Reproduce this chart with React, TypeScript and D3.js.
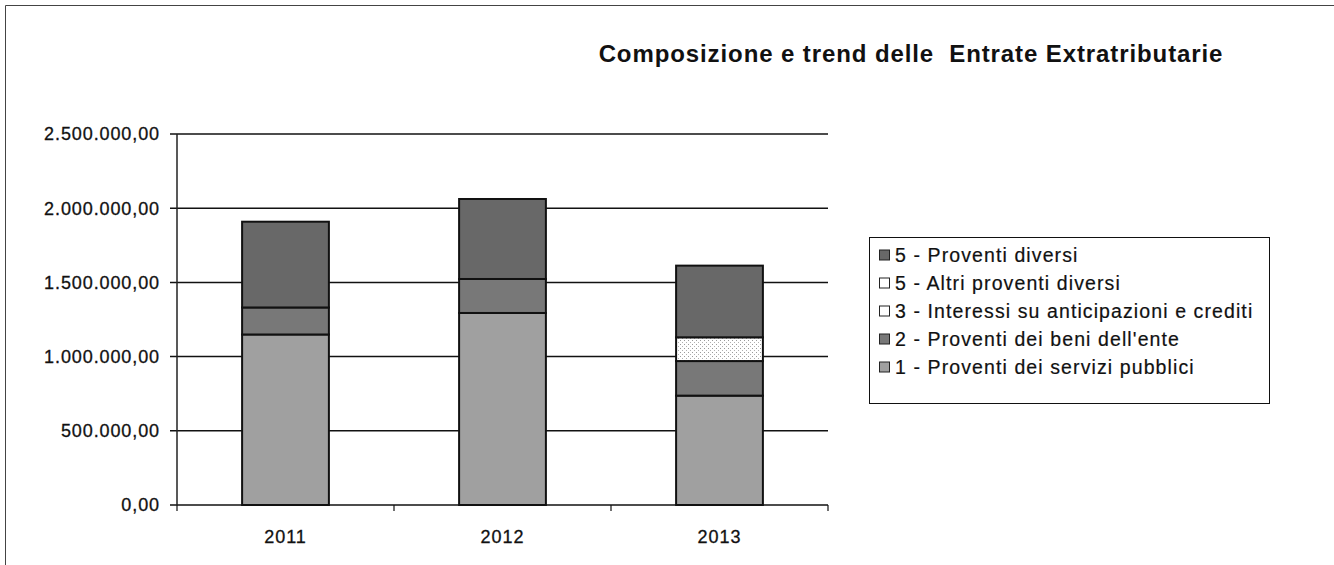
import React from 'react';
import * as d3 from 'd3';

const years = ['2011', '2012', '2013'];
const seriesNames = [
  '1 - Proventi dei servizi pubblici',
  "2 - Proventi dei beni dell'ente",
  '3 - Interessi su anticipazioni e crediti',
  '5 - Altri proventi diversi',
  '5 - Proventi diversi',
];
const serviziPubblici = [1149000, 1294000, 737000];
const beniEnte = [182000, 229000, 233000];
const interessi = [0, 0, 0];
const altriProventi = [0, 0, 160000];
const proventiDiversi = [578000, 539000, 483000];
const yTicks = [0, 500000, 1000000, 1500000, 2000000, 2500000];
const title = 'Composizione e trend delle\u00a0\u00a0Entrate Extratributarie';

const seriesValues = [serviziPubblici, beniEnte, interessi, altriProventi, proventiDiversi];
const fills = ['#a0a0a0', '#787878', '#ffffff', 'url(#dots)', '#686868'];
const legendFills = ['#a0a0a0', '#787878', '#ffffff', '#ffffff', '#686868'];

const it = d3.formatLocale({ decimal: ',', thousands: '.', grouping: [3], currency: ['€', ''] });
const fmt = it.format(',.2f');

export default function App() {
  const W = 1334, H = 565;
  const left = 177, right = 828, top = 134, bottom = 505;
  const x = d3.scaleBand<string>().domain(years).range([left, right]).padding(0);
  const y = d3.scaleLinear().domain([0, 2500000]).range([bottom, top]);
  const barW = x.bandwidth() * 0.4;

  const table = years.map((yr, i) => {
    const row: any = { year: yr };
    seriesNames.forEach((n, k) => (row[n] = seriesValues[k][i]));
    return row;
  });
  const stacked = d3.stack<any>().keys(seriesNames)(table);

  const legendItems = seriesNames.map((n, k) => ({ n, k })).reverse();
  const font = 'Arial, "Liberation Sans", sans-serif';

  return (
    <svg width={W} height={H} style={{ position: 'absolute', left: 0, top: 0, background: '#fff' }} fontFamily={font}>
      <defs>
        <pattern id="dots" width="4" height="4" patternUnits="userSpaceOnUse">
          <rect width="4" height="4" fill="#ffffff" />
          <rect x="0" y="0" width="1" height="1" fill="#9a9a9a" />
          <rect x="2" y="2" width="1" height="1" fill="#b0b0b0" />
        </pattern>
      </defs>
      {/* outer frame */}
      <line x1={5.5} y1={5.5} x2={W} y2={5.5} stroke="#444" strokeWidth={1} />
      <line x1={5.5} y1={5.5} x2={5.5} y2={H} stroke="#444" strokeWidth={1} />

      <text x={911} y={62} textAnchor="middle" fontSize={24} fontWeight="bold" letterSpacing={0.9} fill="#111">
        {title}
      </text>

      {/* gridlines and y axis */}
      {yTicks.map((t) => (
        <g key={t}>
          <line x1={left - 7} x2={right} y1={y(t)} y2={y(t)} stroke="#111" strokeWidth={1.5} />
          <text x={160} y={y(t)} dy="0.36em" textAnchor="end" fontSize={18} letterSpacing={0.9} fill="#111" stroke="#111" strokeWidth={0.3}>
            {fmt(t)}
          </text>
        </g>
      ))}
      <line x1={left} x2={left} y1={top} y2={bottom} stroke="#222" strokeWidth={1.5} />
      {/* x ticks */}
      {[...years.map((yr) => x(yr)!), right].map((px, i) => (
        <line key={i} x1={px} x2={px} y1={bottom} y2={bottom + 6} stroke="#111" strokeWidth={1.2} />
      ))}
      {years.map((yr) => (
        <text key={yr} x={x(yr)! + x.bandwidth() / 2} y={543} textAnchor="middle" fontSize={18} letterSpacing={1} fill="#111" stroke="#111" strokeWidth={0.3}>
          {yr}
        </text>
      ))}

      {/* bars */}
      {stacked.map((layer, k) =>
        layer.map((d, i) => {
          const h = y(d[0]) - y(d[1]);
          if (h <= 0) return null;
          return (
            <rect
              key={k + '-' + i}
              x={x(years[i])! + (x.bandwidth() - barW) / 2}
              y={y(d[1])}
              width={barW}
              height={h}
              fill={fills[k]}
              stroke="#111"
              strokeWidth={2}
            />
          );
        })
      )}

      {/* legend */}
      <rect x={869.5} y={237.5} width={400} height={166} fill="#fff" stroke="#111" strokeWidth={1} />
      {legendItems.map((it2, j) => {
        const cy = 255 + j * 28;
        return (
          <g key={it2.n}>
            <rect x={879.5} y={cy - 5} width={10} height={10} fill={legendFills[it2.k]} stroke="#222" strokeWidth={1} />
            <text x={895} y={cy} dy="0.36em" fontSize={19.5} letterSpacing={1.1} fill="#111" stroke="#111" strokeWidth={0.2}>
              {it2.n}
            </text>
          </g>
        );
      })}
    </svg>
  );
}
